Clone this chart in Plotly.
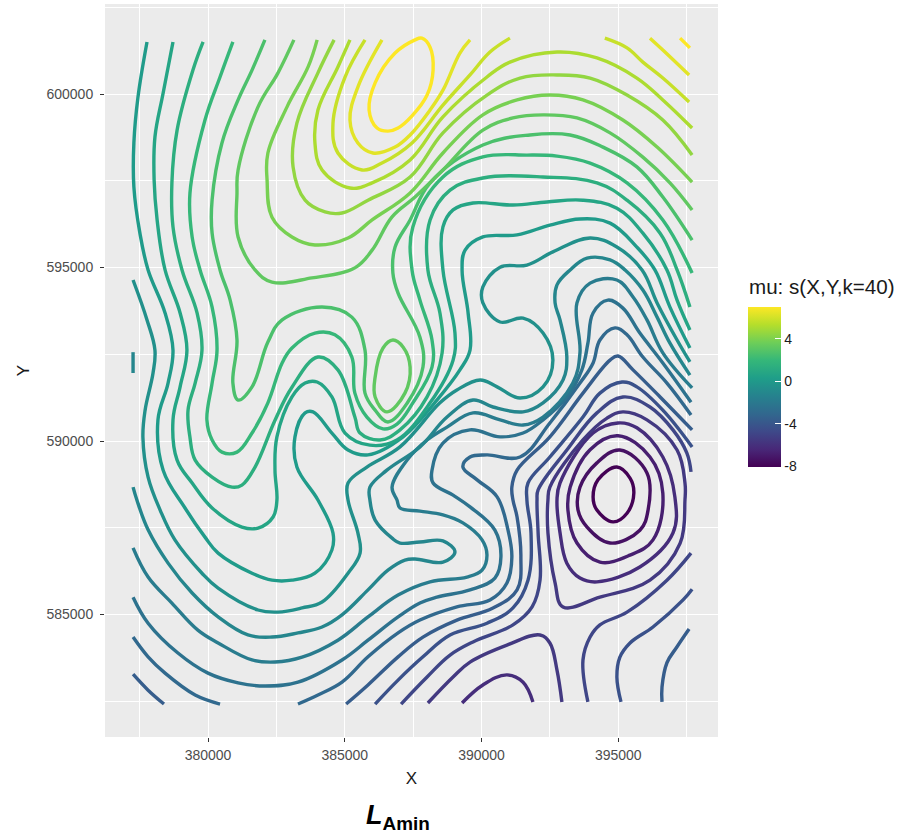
import plotly.graph_objects as go
from plotly.colors import sample_colorscale

# Contour levels of mu: s(X,Y,k=40); coordinates below are X, Y in thousands
LEVEL_MIN, LEVEL_MAX = -8.05, 7.0
colorbar_ticks = [-8, -4, 0, 4]
colorbar_labels = ["-8", "-4", "0", "4"]
x_ticks = [380000, 385000, 390000, 395000]
y_ticks = [585000, 590000, 595000, 600000]

c00 = [(394.95,589.25),(395.43,588.93),(395.57,588.50),(395.32,587.92),(394.81,587.67),(394.22,588.01),(394.08,588.39),(394.26,588.88),(394.95,589.25)]
c01 = [(393.53,588.01),(393.60,588.67),(394.22,589.37),(395.06,589.74),(396.05,589.08),(396.09,588.01),(395.79,587.43),(394.70,587.06),(393.86,587.52),(393.53,588.01)]
c02 = [(393.16,588.01),(393.24,588.67),(393.97,589.75),(394.99,590.15),(396.16,589.54),(396.63,588.50),(396.27,587.15),(395.43,586.71),(394.33,586.51),(393.49,587.06),(393.16,588.01)]
c03 = [(392.76,588.30),(392.87,587.36),(393.12,586.48),(393.60,586.05),(394.22,585.94),(395.79,586.37),(397.00,587.35),(397.07,588.39),(396.63,589.54),(395.68,590.38),(394.99,590.52),(394.08,590.23),(392.87,588.79),(392.76,588.30)]
c03b = [(389.29,582.45),(390.05,582.97),(390.93,583.26),(391.52,583.05),(391.88,582.48)]
c04 = [(392.43,588.30),(392.43,587.35),(392.69,585.91),(392.98,585.22),(394.33,585.50),(396.16,585.99),(397.26,587.05),(397.44,588.30),(397.44,588.79),(397.15,589.74),(396.05,590.61),(395.17,590.84),(394.59,590.66),(393.71,590.03),(392.50,588.67),(392.43,588.30)]
c04b = [(388.04,582.45),(388.96,583.20),(389.58,583.63),(390.93,584.12),(392.14,584.41),(392.50,584.18),(392.76,583.40),(392.94,582.48)]
c05 = [(387.06,582.42),(388.01,583.20),(388.85,583.83),(389.69,584.21),(391.15,584.70),(391.85,585.22),(392.14,585.99),(392.07,587.35),(392.03,588.30),(392.07,588.59),(393.12,589.74),(394.22,590.81),(395.17,591.27),(396.16,590.98),(397.00,590.32),(397.51,589.65),(397.66,589.11)]
c05b = [(397.66,586.77),(396.78,585.99),(395.32,585.07),(394.33,584.70),(393.97,584.35),(393.71,583.69),(393.89,582.48)]
c06 = [(386.11,582.42),(386.95,583.11),(387.86,583.78),(388.85,584.41),(390.20,584.75),(391.15,585.19),(391.70,585.99),(391.81,587.35),(391.66,588.30),(391.70,588.79),(392.50,589.54),(393.71,590.69),(394.33,591.38),(395.14,591.70),(395.68,591.56),(396.63,590.89),(397.70,589.83)]
c06b = [(397.70,585.73),(397.37,585.42),(396.27,584.64),(395.43,584.18),(395.06,583.77),(394.95,583.20),(395.10,582.48)]
c07 = [(385.05,582.42),(385.85,582.97),(386.95,583.78),(387.86,584.35),(389.10,584.84),(390.42,585.19),(391.30,585.71),(391.44,586.66),(391.30,587.81),(391.15,588.30),(391.11,588.67),(391.30,589.16),(392.50,590.12),(393.71,591.38),(394.70,592.33),(394.99,592.45),(395.54,592.05),(396.53,591.27),(397.70,590.32)]
c07b = [(377.26,583.28),(377.81,582.82),(378.39,582.42)]
c07c = [(397.59,584.58),(397.15,584.07),(396.78,583.61),(396.60,582.91),(396.60,582.48)]
c08 = [(383.29,582.42),(384.02,582.68),(384.90,583.05),(385.85,583.78),(386.95,584.47),(387.75,584.84),(389.10,585.22),(390.31,585.42),(390.93,585.91),(391.11,586.66),(390.97,587.43),(390.57,588.39),(389.84,588.88),(389.32,589.25),(389.58,589.54),(390.20,589.60),(391.41,589.54),(392.50,590.52),(393.60,591.67),(394.08,592.25),(394.33,592.91),(394.88,593.26),(395.32,593.06),(395.90,592.42),(396.78,591.67),(397.66,590.75)]
c08b = [(377.26,584.35),(377.81,583.78),(378.43,583.31),(379.53,582.68),(380.44,582.42)]
c09 = [(377.26,585.50),(377.81,584.75),(378.90,583.89),(380.00,583.31),(381.10,583.03),(382.08,582.94),(383.29,583.05),(384.90,583.69),(385.85,584.26),(386.95,584.93),(387.75,585.33),(388.37,585.50),(389.58,585.71),(390.49,586.05),(390.71,586.66),(390.49,587.43),(389.58,588.10),(388.96,588.44),(388.23,588.79),(388.19,589.16),(388.59,589.94),(389.58,590.32),(390.68,590.12),(391.52,590.23),(392.25,590.61),(393.12,591.27),(393.67,592.05),(393.89,592.82),(394.08,593.69),(394.62,594.06),(395.17,593.83),(395.79,593.11),(396.63,592.25),(397.66,591.12)]
c10 = [(377.26,586.92),(377.81,586.08),(378.68,585.33),(379.63,584.55),(380.37,584.18),(381.61,583.69),(382.45,583.63),(383.44,583.77),(384.75,584.26),(385.85,584.93),(386.95,585.56),(388.12,585.94),(389.47,586.08),(390.02,586.28),(390.20,586.71),(390.02,587.15),(389.32,587.64),(388.59,587.87),(387.75,587.98),(387.02,588.07),(386.91,588.30),(386.73,588.67),(387.28,589.45),(388.01,590.03),(388.74,590.40),(389.69,590.81),(390.68,590.61),(391.52,590.46),(392.25,590.69),(393.34,591.67),(393.60,592.54),(393.49,593.98),(393.97,594.55),(394.95,594.64),(395.54,594.15),(396.05,593.49),(396.63,592.54),(397.70,591.53)]
c11 = [(377.26,588.67),(377.40,588.30),(377.81,587.44),(378.54,586.48),(379.42,585.62),(380.37,584.93),(381.46,584.41),(382.34,584.35),(383.29,584.47),(384.17,584.64),(384.90,584.99),(385.85,585.71),(386.58,586.28),(387.20,586.57),(387.57,586.60),(388.59,586.51),(389.03,586.80),(388.59,587.12),(387.75,587.09),(387.02,587.06),(386.73,587.20),(386.11,587.72),(385.92,588.30),(385.92,588.67),(386.54,589.16),(387.75,589.83),(388.74,590.69),(389.69,591.18),(390.42,590.98),(391.52,590.84),(392.25,591.10),(392.98,591.76),(393.12,592.42),(392.87,593.49),(392.69,593.98),(392.76,594.50),(393.24,594.93),(393.86,595.27),(394.70,595.22),(395.25,594.93),(395.90,594.35),(396.42,593.57),(396.89,592.82),(397.62,591.90)]
c11b = [(377.26,592.56),(377.26,591.96)]
c12 = [(377.26,594.64),(377.77,593.49),(378.06,592.62),(377.99,591.96),(377.70,590.89),(377.62,590.11),(377.81,588.96),(378.25,588.01),(378.79,587.15),(379.78,586.19),(380.37,585.76),(381.83,585.13),(382.56,585.07),(383.44,585.19),(384.17,585.36),(385.12,586.19),(385.56,586.77),(385.48,587.35),(385.12,588.30),(385.12,588.79),(385.81,589.25),(387.02,589.83),(388.48,591.10),(389.10,591.47),(389.95,591.76),(390.57,591.56),(391.41,591.24),(392.25,591.56),(392.61,592.33),(392.25,593.11),(391.52,593.54),(390.68,593.43),(390.05,593.98),(390.05,594.44),(390.68,595.01),(391.66,595.07),(392.61,595.45),(393.97,595.85),(394.95,595.59),(395.87,594.93),(396.42,593.98),(397.15,592.91),(397.62,592.28)]
c13 = [(377.77,601.50),(377.44,599.91),(377.29,598.59),(377.29,597.32),(377.51,595.99),(377.81,594.93),(378.43,593.69),(378.72,592.62),(378.54,591.67),(378.17,590.61),(378.36,589.16),(379.16,588.07),(379.89,587.23),(380.37,586.77),(381.61,586.19),(382.34,585.99),(383.07,585.99),(383.91,586.19),(384.53,586.86),(384.57,587.35),(384.02,588.30),(383.25,589.25),(383.18,590.12),(383.55,590.81),(383.84,590.84),(384.53,590.23),(385.12,589.74),(385.85,589.60),(387.13,590.12),(388.37,591.18),(389.21,592.05),(389.58,592.62),(389.51,593.69),(389.29,594.93),(389.40,595.50),(390.05,595.88),(391.30,595.94),(392.50,596.22),(393.60,596.40),(394.70,596.28),(395.68,595.59),(396.34,594.93),(396.89,593.86),(397.62,592.68)]
c14 = [(378.72,601.50),(378.36,600.03),(378.06,598.76),(378.03,597.52),(378.14,596.37),(378.43,594.93),(378.98,593.69),(379.23,592.62),(378.98,591.56),(378.72,590.61),(378.87,589.45),(379.42,588.79),(380.15,588.07),(381.24,587.52),(381.83,587.49),(382.38,587.81),(382.52,588.30),(382.45,589.16),(382.52,590.12),(383.07,591.27),(383.55,591.67),(383.99,591.70),(384.53,591.27),(385.01,590.23),(385.92,589.88),(386.91,590.03),(388.12,591.10),(388.96,592.33),(389.03,593.11),(388.59,594.93),(388.59,596.17),(388.96,596.66),(389.69,596.86),(391.15,596.80),(392.39,596.89),(393.71,596.94),(394.95,596.71),(395.90,595.99),(396.78,594.93),(397.15,594.06),(397.62,593.20)]
c15 = [(379.82,601.50),(379.45,600.69),(378.87,598.96),(378.68,597.44),(378.72,596.17),(379.05,594.93),(379.60,593.69),(379.78,592.62),(379.53,591.67),(379.27,590.89),(379.34,590.11),(379.53,589.45),(380.15,588.96),(380.88,588.67),(381.24,588.73),(381.72,589.25),(382.45,590.60),(383.07,591.55),(384.02,592.42),(384.75,592.05),(385.37,590.69),(385.56,590.23),(386.29,590.03),(387.02,590.32),(388.01,591.27),(388.56,592.54),(388.48,593.69),(388.04,594.93),(388.12,596.37),(388.85,597.23),(390.05,597.58),(392.25,597.61),(394.22,597.44),(395.32,596.94),(396.53,595.99),(397.15,594.93),(397.62,593.86)]
c16 = [(380.91,601.50),(380.44,600.49),(379.89,599.25),(379.34,597.14),(379.42,595.88),(379.71,594.93),(380.15,593.86),(380.33,592.62),(380.15,591.67),(379.96,590.61),(380.15,590.03),(380.51,589.68),(381.06,589.68),(381.61,590.23),(382.19,591.10),(382.71,592.25),(383.07,592.68),(383.91,593.11),(384.64,593.06),(385.26,592.42),(385.37,591.38),(385.81,590.69),(386.40,590.35),(386.91,590.49),(387.49,591.10),(388.19,592.13),(388.19,592.91),(387.75,594.06),(387.46,594.93),(387.49,596.17),(388.59,597.61),(390.05,598.19),(391.66,598.24),(392.76,598.21),(393.97,598.01),(395.32,597.44),(396.63,596.37),(397.70,594.84)]
c17 = [(382.08,601.56),(381.61,600.69),(381.10,599.83),(380.51,598.59),(380.15,596.95),(380.15,595.99),(380.44,594.93),(380.81,594.06),(381.06,592.91),(380.91,591.67),(381.10,591.18),(381.61,591.56),(382.19,592.85),(382.71,593.49),(384.17,593.86),(385.26,593.57),(385.74,592.62),(385.74,591.38),(386.11,590.89),(386.58,590.55),(387.28,591.09),(387.86,592.13),(387.75,592.99),(386.95,594.26),(386.76,594.84),(386.84,595.59),(387.39,596.37),(388.12,597.44),(390.05,598.53),(391.77,598.82),(393.24,598.82),(394.44,598.47),(395.68,597.90),(396.63,597.03),(397.70,595.79)]
c18 = [(383.14,601.56),(382.56,600.61),(381.83,599.63),(381.10,597.81),(381.06,597.15),(381.10,595.88),(381.72,594.93),(382.34,594.58),(383.80,594.70),(385.37,594.99),(386.00,595.50),(386.73,596.46),(387.57,597.03),(388.59,597.81),(390.05,598.96),(391.15,599.31),(392.25,599.40),(393.49,599.31),(394.70,598.88),(395.90,598.18),(396.89,597.44),(397.70,596.66)]
c18b = [(386.76,592.91),(387.13,592.71),(387.39,592.13),(387.20,591.38),(386.54,590.84),(386.11,591.27),(386.11,591.84),(386.40,592.68),(386.76,592.91)]
c19 = [(383.99,601.56),(383.66,600.78),(382.89,599.63),(382.19,598.30),(382.16,597.52),(382.34,596.45),(383.07,595.88),(383.91,595.65),(385.12,595.85),(386.00,596.37),(387.39,597.15),(388.59,598.30),(390.05,599.40),(391.30,599.83),(392.50,599.97),(393.71,599.83),(395.17,599.25),(396.42,598.47),(397.70,597.46)]
c20 = [(384.61,601.56),(384.02,600.61),(383.25,599.16),(383.11,597.90),(383.55,596.94),(384.28,596.60),(384.90,596.57),(385.85,596.94),(387.39,597.61),(388.59,598.88),(390.20,599.97),(391.41,600.46),(392.76,600.55),(393.97,600.46),(395.32,599.97),(396.63,599.25),(397.70,598.24)]
c21 = [(385.19,601.56),(384.75,600.78),(384.02,599.54),(383.91,598.59),(384.17,597.81),(385.19,597.29),(386.00,597.44),(387.39,598.10),(388.59,599.34),(390.20,600.49),(391.04,600.92),(392.76,601.21),(394.22,601.04),(395.68,600.46),(396.63,599.83),(397.70,599.02)]
c22 = [(391.04,601.61),(390.31,601.21),(389.58,600.55),(388.59,599.68),(387.46,598.59),(386.36,598.01),(385.63,597.81),(384.75,598.30),(384.57,599.16),(385.01,600.49),(385.74,601.56)]
c22b = [(394.51,601.61),(395.32,601.33),(395.90,600.92),(396.63,600.46),(397.59,599.77)]
c23 = [(389.58,601.56),(389.21,601.18),(388.59,600.11),(388.12,599.54),(387.39,598.82),(386.84,598.47),(386.03,598.30),(385.48,598.59),(385.19,599.25),(385.48,600.20),(386.36,601.56)]
c23b = [(396.16,601.61),(396.63,601.27),(397.59,600.55)]
c24 = [(387.57,601.56),(387.82,601.61),(388.12,601.35),(388.23,600.69),(388.01,599.97),(387.46,599.37),(386.95,599.02),(386.58,598.93),(386.18,599.02),(385.89,599.54),(386.11,600.32),(386.84,601.18),(387.57,601.56)]
c24b = [(397.26,601.61),(397.62,601.33)]

level_values = [-8.0, -7.375, -6.75, -6.125, -5.5, -4.875, -4.25, -3.625, -3.0, -2.375, -1.75, -1.125, -0.5,
                0.125, 0.75, 1.375, 2.0, 2.625, 3.25, 3.875, 4.5, 5.125, 5.75, 6.375, 7.0]
contour_groups = [
    [c00], [c01], [c02], [c03, c03b], [c04, c04b], [c05, c05b], [c06, c06b], [c07, c07b, c07c],
    [c08, c08b], [c09], [c10], [c11, c11b], [c12], [c13], [c14], [c15], [c16], [c17],
    [c18, c18b], [c19], [c20], [c21], [c22, c22b], [c23, c23b], [c24, c24b],
]

fig = go.Figure()
for value, group in zip(level_values, contour_groups):
    colour = sample_colorscale("Viridis", (value - LEVEL_MIN) / (LEVEL_MAX - LEVEL_MIN))[0]
    for line in group:
        fig.add_trace(go.Scatter(
            x=[p[0] * 1000 for p in line], y=[p[1] * 1000 for p in line],
            mode="lines", line=dict(color=colour, width=3.4, shape="spline", smoothing=1.1),
            showlegend=False, hoverinfo="skip",
        ))

fig.add_trace(go.Scatter(
    x=[None], y=[None], mode="markers", showlegend=False, hoverinfo="skip",
    marker=dict(
        color=[0], colorscale="Viridis", cmin=LEVEL_MIN, cmax=LEVEL_MAX, showscale=True,
        colorbar=dict(
            thickness=33, thicknessmode="pixels", len=160, lenmode="pixels",
            x=1.0489, xanchor="left", xpad=0, y=0.5866, yanchor="top", ypad=0,
            outlinewidth=0, borderwidth=0, ticks="inside", ticklen=6, tickwidth=1, tickcolor="white",
            tickmode="array", tickvals=colorbar_ticks, ticktext=colorbar_labels,
            tickfont=dict(family="Liberation Sans", size=14, color="#1a1a1a"),
        ),
    ),
))

# Matching white tick marks on the left edge of the colour bar, placed from the tick values
bar_shapes = []
for v in colorbar_ticks:
    frac = 0.5866 - (LEVEL_MAX - v) / (LEVEL_MAX - LEVEL_MIN) * 160 / 733
    bar_shapes.append(dict(type="line", xref="paper", yref="paper",
                           x0=1.0489, x1=1.0489 + 6 / 613, y0=frac, y1=frac,
                           line=dict(color="white", width=1)))

axis_common = dict(
    showgrid=True, gridcolor="white", gridwidth=1.4, zeroline=False, showline=False,
    ticks="outside", ticklen=4, tickwidth=1, tickcolor="#333333", tickformat="d",
    tickfont=dict(family="Liberation Sans", size=14, color="#4d4d4d"),
    title_font=dict(family="Liberation Sans", size=17, color="#1a1a1a"),
)
fig.update_xaxes(
    range=[376234, 398647], tickmode="array", tickvals=x_ticks, title_text="X", title_standoff=10,
    ticklabelstandoff=1,
    minor=dict(dtick=2500, tick0=380000, showgrid=True, gridcolor="white", gridwidth=0.7, ticks=""),
    **axis_common,
)
fig.update_yaxes(
    range=[581470, 602594], tickmode="array", tickvals=y_ticks, title_text="Y", title_standoff=12,
    ticklabelstandoff=4,
    minor=dict(dtick=2500, tick0=585000, showgrid=True, gridcolor="white", gridwidth=0.7, ticks=""),
    **axis_common,
)
fig.update_layout(
    width=901, height=836, margin=dict(l=105, r=183, t=4, b=99, autoexpand=False),
    plot_bgcolor="#EBEBEB", paper_bgcolor="white",
    font=dict(family="Liberation Sans"),
    shapes=bar_shapes,
    annotations=[
        dict(text="mu: s(X,Y,k=40)", xref="paper", yref="paper", x=1.0475, y=0.5955,
             xanchor="left", yanchor="bottom", showarrow=False,
             font=dict(family="Liberation Sans", size=20.6, color="#1a1a1a")),
        dict(text="<b><i>L</i></b><sub><b>Amin</b></sub>", xref="paper", yref="paper", x=0.4785, y=-0.083,
             xanchor="center", yanchor="top", showarrow=False,
             font=dict(family="Liberation Sans", size=27, color="black")),
    ],
)
fig.write_html("out.html", config={"displayModeBar": False}, post_script="document.body.style.margin='0';")
